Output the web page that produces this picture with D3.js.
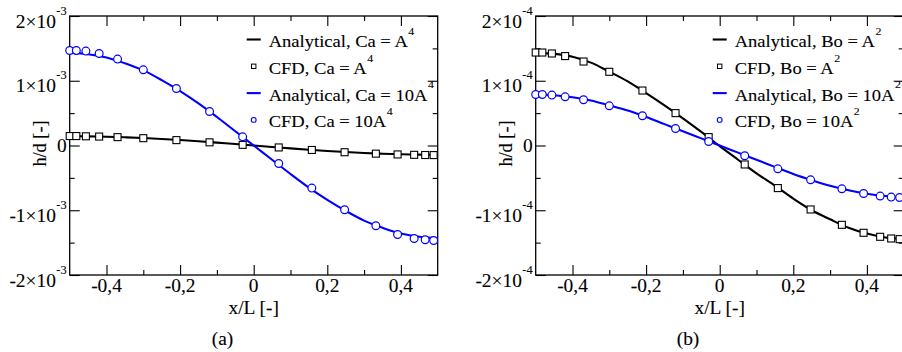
<!DOCTYPE html>
<html>
<head>
<meta charset="utf-8">
<title>h/d profiles</title>
<script src="https://cdn.jsdelivr.net/npm/d3@7"></script>
<style>
  body { margin: 0; background: #fff; }
  svg text { font-family: "Liberation Serif", "Times New Roman", serif; fill: #000; stroke: #000; stroke-width: 0.1px; }
</style>
</head>
<body>
<svg id="mainsvg" width="902" height="352" font-family="Liberation Serif, serif"></svg>
<script>
// x positions of the CFD samples (same in both panels)
const xCfd = [-0.500, -0.482, -0.456, -0.420, -0.370, -0.300, -0.210, -0.120, -0.030,
              0.068, 0.158, 0.247, 0.332, 0.391, 0.436, 0.466, 0.489];
// x positions used to draw the analytical curves
const xAna = [-0.50, -0.45, -0.40, -0.35, -0.30, -0.25, -0.20, -0.15, -0.10, -0.05, 0,
              0.05, 0.10, 0.15, 0.20, 0.25, 0.30, 0.35, 0.40, 0.45, 0.50];

// panel (a), h/d in units of 1e-3
const anaCaA4   = [0.143, 0.141, 0.136, 0.127, 0.116, 0.101, 0.084, 0.065, 0.044, 0.022, 0,
                   -0.022, -0.044, -0.065, -0.084, -0.101, -0.116, -0.127, -0.136, -0.141, -0.143];
const cfdCaA4   = [0.146, 0.146, 0.142, 0.138, 0.129, 0.113, 0.083, 0.049, 0.010,
                   -0.030, -0.069, -0.104, -0.126, -0.138, -0.144, -0.147, -0.148];
const anaCa10A4 = [1.43, 1.41, 1.36, 1.27, 1.16, 1.01, 0.84, 0.65, 0.44, 0.22, 0,
                   -0.22, -0.44, -0.65, -0.84, -1.01, -1.16, -1.27, -1.36, -1.41, -1.43];
const cfdCa10A4 = [1.467, 1.467, 1.458, 1.421, 1.334, 1.169, 0.880, 0.525, 0.134,
                   -0.278, -0.658, -0.993, -1.240, -1.374, -1.436, -1.456, -1.467];

// panel (b), h/d in units of 1e-4
const anaBoA2   = [1.43, 1.415, 1.37, 1.28, 1.14, 0.99, 0.81, 0.62, 0.42, 0.21, -0.01,
                   -0.22, -0.43, -0.62, -0.82, -1.00, -1.14, -1.27, -1.36, -1.42, -1.44];
const cfdBoA2   = [1.436, 1.436, 1.421, 1.381, 1.297, 1.138, 0.849, 0.500, 0.130,
                   -0.293, -0.658, -0.988, -1.225, -1.348, -1.410, -1.436, -1.446];
const anaBo10A2 = [0.79, 0.775, 0.745, 0.695, 0.62, 0.54, 0.44, 0.33, 0.22, 0.11, 0,
                   -0.11, -0.22, -0.33, -0.44, -0.535, -0.62, -0.69, -0.745, -0.78, -0.80];
const cfdBo10A2 = [0.788, 0.788, 0.778, 0.752, 0.706, 0.613, 0.459, 0.263, 0.062,
                   -0.159, -0.360, -0.530, -0.669, -0.741, -0.781, -0.797, -0.803];

// ticks
const xMajor = [-0.4, -0.2, 0, 0.2, 0.4];
const xMajorLabels = ['-0,4', '-0,2', '0', '0,2', '0,4'];
const xMinor = [-0.3, -0.1, 0.1, 0.3];
const yMajor = [-2, -1, 0, 1, 2];
const yMajorLabels = ['-2\u00d710', '-1\u00d710', '0', '1\u00d710', '2\u00d710'];
const yMinor = [-1.5, -0.5, 0.5, 1.5];

const svg = d3.select('#mainsvg');
const FONT = '"Liberation Serif", "Times New Roman", serif';
const SX = 1.06; // source figure text is a bit wide
const FS = 18.3; // tick and title size
const plotTop = 16, plotH = 259, plotW = 368;

const panels = [
  {left: 69.7, exp: '-3', caption: '(a)', captionX: 222.5,
   ana: [anaCaA4, anaCa10A4], cfd: [cfdCaA4, cfdCa10A4],
   legend: ['Analytical, Ca = A', 'CFD, Ca = A', 'Analytical, Ca = 10A', 'CFD, Ca = 10A'], sup: '4'},
  {left: 535.7, exp: '-4', caption: '(b)', captionX: 688,
   ana: [anaBoA2, anaBo10A2], cfd: [cfdBoA2, cfdBo10A2],
   legend: ['Analytical, Bo = A', 'CFD, Bo = A', 'Analytical, Bo = 10A', 'CFD, Bo = 10A'], sup: '2'}
];
const colors = ['#000000', '#0000ff'];

function addText(g, transform, anchor, size, str) {
  return g.append('text')
    .attr('transform', transform)
    .attr('text-anchor', anchor)
    .style('font-family', FONT)
    .style('font-size', size + 'px')
    .text(str);
}

function supText(g, x, y, main, sup, anchor, size) {
  const t = g.append('text')
    .attr('transform', `translate(${x},${y}) scale(${SX},1)`)
    .attr('text-anchor', anchor)
    .style('font-family', FONT)
    .style('font-size', size + 'px');
  t.append('tspan').text(main);
  if (sup) {
    t.append('tspan').attr('dx', 0.5).attr('dy', -size * 0.7).style('font-size', (size * 0.64) + 'px').text(sup);
  }
  return t;
}

panels.forEach(p => {
  const g = svg.append('g').attr('transform', `translate(${p.left},${plotTop})`);
  const x = d3.scaleLinear().domain([-0.5, 0.5]).range([0, plotW]);
  const y = d3.scaleLinear().domain([-2, 2]).range([plotH, 0]);

  // ticks, pointing inward on all four sides
  const tickSets = [
    [d3.axisBottom(x), `translate(0,${plotH})`, xMajor, xMinor],
    [d3.axisTop(x), 'translate(0,0)', xMajor, xMinor],
    [d3.axisLeft(y), 'translate(0,0)', yMajor, yMinor],
    [d3.axisRight(y), `translate(${plotW},0)`, yMajor, yMinor]
  ];
  tickSets.forEach(([axis, tr, major, minor]) => {
    const a1 = g.append('g').attr('transform', tr)
      .call(axis.tickValues(major).tickSize(-10).tickFormat(''));
    a1.select('.domain').remove();
    const a2 = g.append('g').attr('transform', tr)
      .call(axis.tickValues(minor).tickSize(-5).tickFormat(''));
    a2.select('.domain').remove();
  });
  g.selectAll('.tick line').attr('stroke', '#000').attr('stroke-width', 1.1);

  g.append('rect').attr('width', plotW).attr('height', plotH)
    .attr('fill', 'none').attr('stroke', '#000').attr('stroke-width', 1.3);

  // tick labels
  xMajor.forEach((v, i) => {
    addText(g, `translate(${x(v)},${plotH + 16.8}) scale(${SX},1)`, 'middle', FS, xMajorLabels[i]);
  });
  yMajor.forEach((v, i) => {
    const hasExp = v !== 0;
    supText(g, -3, y(v) + (hasExp ? 11.5 : 6.5), yMajorLabels[i], hasExp ? p.exp : null, 'end', FS);
  });

  // axis titles
  addText(g, `translate(${plotW / 2},${plotH + 38.5}) scale(${SX},1)`, 'middle', FS, 'x/L [-]');
  addText(g, `translate(-24,${plotH / 2 - 2}) rotate(-90) scale(1,${SX})`, 'middle', FS, 'h/d [-]');

  // analytical curves
  const line = d3.line().x((d, i) => x(xAna[i])).y(d => y(d)).curve(d3.curveCatmullRom);
  p.ana.forEach((s, k) => {
    g.append('path').attr('d', line(s)).attr('fill', 'none')
      .attr('stroke', colors[k]).attr('stroke-width', 2.1);
  });

  // CFD markers
  g.selectAll('.sq').data(p.cfd[0]).join('rect').attr('class', 'sq')
    .attr('x', (d, i) => x(xCfd[i]) - 3.5).attr('y', d => y(d) - 3.5)
    .attr('width', 7).attr('height', 7)
    .attr('fill', '#fff').attr('stroke', '#000').attr('stroke-width', 1.1);
  g.selectAll('.ci').data(p.cfd[1]).join('circle').attr('class', 'ci')
    .attr('cx', (d, i) => x(xCfd[i])).attr('cy', d => y(d)).attr('r', 3.9)
    .attr('fill', '#fff').attr('stroke', '#0000ff').attr('stroke-width', 1.2);

  // legend
  const cx = 184, tx = 199;
  p.legend.forEach((lab, i) => {
    const sy = 23.5 + 26.8 * i;
    const col = colors[Math.floor(i / 2)];
    if (i % 2 === 0) {
      g.append('line').attr('x1', cx - 7).attr('x2', cx + 7).attr('y1', sy).attr('y2', sy)
        .attr('stroke', col).attr('stroke-width', 2.1);
    } else if (i === 1) {
      g.append('rect').attr('x', cx - 2.2).attr('y', sy - 2.2).attr('width', 4.4).attr('height', 4.4)
        .attr('fill', '#fff').attr('stroke', col).attr('stroke-width', 1);
    } else {
      g.append('circle').attr('cx', cx).attr('cy', sy).attr('r', 2.4)
        .attr('fill', '#fff').attr('stroke', col).attr('stroke-width', 1.1);
    }
    supText(g, tx, sy + 7.5, lab, p.sup, 'start', 17.5);
  });

  // sub-figure caption
  addText(svg, `translate(${p.captionX},345) scale(${SX},1)`, 'middle', FS, p.caption);
});
</script>
</body>
</html>
